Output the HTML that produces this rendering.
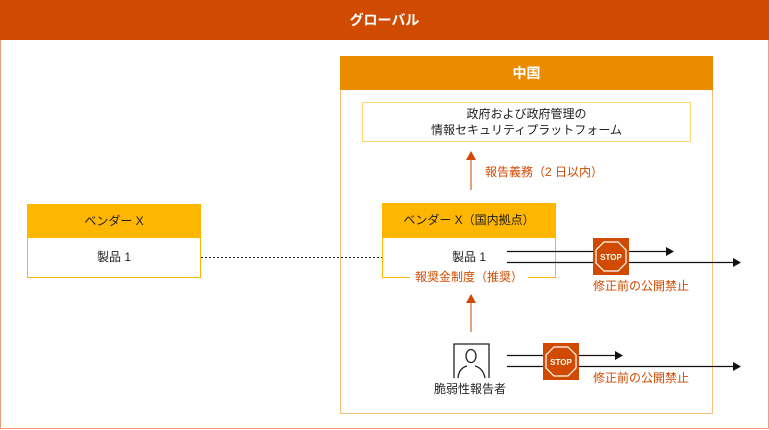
<!DOCTYPE html>
<html><head><meta charset="utf-8"><style>
body{margin:0;width:769px;height:430px;background:#fff;position:relative;overflow:hidden;font-family:"Liberation Sans","Noto Sans CJK JP",sans-serif;color:#222}
div{position:absolute;box-sizing:border-box}
.c{text-align:center}
.or{color:#D04A02;font-size:12px}
</style></head><body>
<div style="left:0;top:0;width:769px;height:429px;border:1px solid #E8A07A;border-top:none;border-right:1px solid #E8A07A;"></div>
<div class="c" style="left:0;top:0;width:769px;height:40px;background:#D04A02;color:#fff;font-weight:bold;font-size:14px;line-height:40px">グローバル</div>

<div style="left:340px;top:56px;width:373px;height:358px;border:1px solid #F5C07A"></div>
<div class="c" style="left:340px;top:56px;width:373px;height:34px;background:#EB8C00;color:#fff;font-weight:bold;font-size:14px;line-height:34px">中国</div>

<div class="c" style="left:362px;top:102px;width:329px;height:40px;border:1px solid #FFD770;font-size:12px;line-height:16px;padding-top:3px">政府および政府管理の<br>情報セキュリティプラットフォーム</div>
<div class="or" style="left:485px;top:164px;line-height:16px">報告義務（2 日以内）</div>

<div class="c" style="left:27px;top:204px;width:174px;height:34px;background:#FFB600;font-size:12px;line-height:34px">ベンダー X</div>
<div class="c" style="left:27px;top:238px;width:174px;height:40px;border:1px solid #FFB600;border-top:none;font-size:12px;line-height:38px">製品 1</div>

<div class="c" style="left:382px;top:203px;width:174px;height:35px;background:#FFB600;font-size:12px;line-height:35px">ベンダー X（国内拠点）</div>
<div class="c" style="left:382px;top:238px;width:174px;height:40px;border:1px solid #FFB600;border-top:none;font-size:12px;line-height:38px">製品 1</div>
<div class="or c" style="left:410px;top:269px;width:118px;background:#fff;line-height:16px">報奨金制度（推奨）</div>

<div class="or" style="left:593px;top:278px;line-height:16px">修正前の公開禁止</div>
<div class="or" style="left:593px;top:370px;line-height:16px">修正前の公開禁止</div>
<div class="c" style="left:410px;top:381px;width:120px;font-size:12px;line-height:16px">脆弱性報告者</div>

<svg style="position:absolute;left:0;top:0" width="769" height="430">
<line x1="201" y1="257.5" x2="382" y2="257.5" stroke="#222" stroke-dasharray="2,2"/>
<g stroke="#D9824F" stroke-width="1.5"><line x1="471" y1="190" x2="471" y2="158"/><line x1="471" y1="332" x2="471" y2="301"/></g>
<g fill="#D04A02"><polygon points="466,160 476,160 471,151"/><polygon points="466,303 476,303 471,294"/></g>
<g stroke="#111" stroke-width="1.2">
<line x1="507" y1="251.5" x2="666" y2="251.5"/><line x1="507" y1="262.5" x2="733" y2="262.5"/>
<line x1="507" y1="355.5" x2="615" y2="355.5"/><line x1="507" y1="366.5" x2="733" y2="366.5"/>
</g>
<g fill="#111">
<polygon points="666,247 674,251.5 666,256"/><polygon points="733,258 741,262.5 733,267"/>
<polygon points="615,351 623,355.5 615,360"/><polygon points="733,362 741,366.5 733,371"/>
</g>
<g id="s1">
<rect x="593" y="238" width="36" height="37" fill="#D04A02"/>
<polygon points="604,242 618,242 626,250 626,263 618,271 604,271 596,263 596,250" fill="none" stroke="#fff" stroke-width="1.2"/>
<text x="611" y="260" font-size="8" font-weight="bold" fill="#fff" text-anchor="middle" font-family="Liberation Sans">STOP</text>
</g>
<rect x="543" y="343" width="36" height="37" fill="#D04A02"/>
<polygon points="554,347 568,347 576,355 576,368 568,376 554,376 546,368 546,355" fill="none" stroke="#fff" stroke-width="1.2"/>
<text x="561" y="365" font-size="8" font-weight="bold" fill="#fff" text-anchor="middle" font-family="Liberation Sans">STOP</text>
<g fill="none" stroke="#222" stroke-width="1.3">
<polyline points="454,378 454,344 489,344 489,378"/>
<ellipse cx="471" cy="356" rx="5" ry="6.5"/>
<path d="M458,378 Q459,368 467,366 M475,366 Q483,368 485,378"/>
</g>
</svg>
</body></html>
